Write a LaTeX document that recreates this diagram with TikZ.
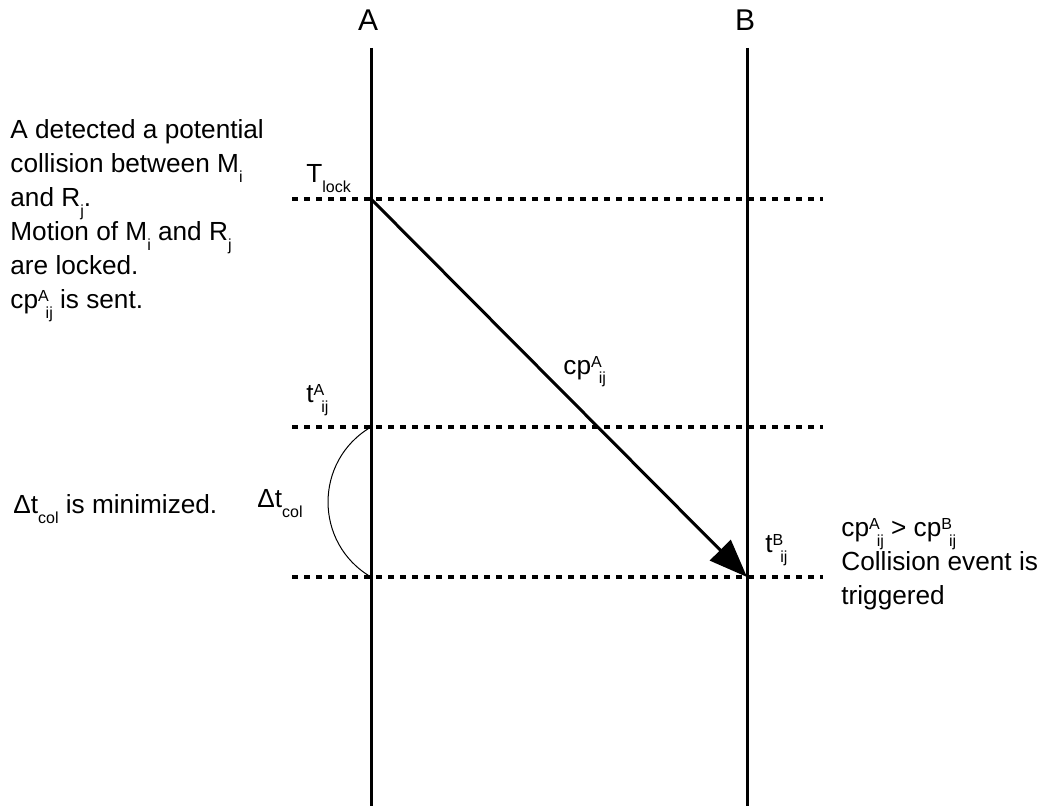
\documentclass[tikz,border=0pt]{standalone}
\usepackage{fontspec}
\setmainfont{Liberation Sans}
\usetikzlibrary{arrows.meta}
\newcommand{\subtx}[1]{\smash{\raisebox{-5pt}{\fontsize{8}{9}\selectfont #1}}}
\newcommand{\suptx}[1]{\smash{\raisebox{3.5pt}{\fontsize{8}{9}\selectfont #1}}}
\newcommand{\supsubtx}[2]{\suptx{#1}\kern-1.5pt\subtx{#2}}

\begin{document}
\begin{tikzpicture}[x=0.5pt,y=-0.5pt,
  every node/.style={inner sep=0pt,font=\fontsize{13.1}{17}\selectfont},
  lane/.style={line width=1.5pt},
  tick/.style={line width=2pt,dash pattern=on 3pt off 3pt},
  msg/.style={line width=1.5pt,-{Triangle[length=19pt,width=14.5pt]}},
  txt/.style={anchor=base west},
  head/.style={anchor=base,font=\fontsize{15}{18}\selectfont}]
  \useasboundingbox (0,0) rectangle (1047,806);
  % the two processes
  \node[head] (pa) at (368,31) {A};
  \node[head] (pb) at (745,31) {B};
  \coordinate (topA) at (371,48); \coordinate (botA) at (371,806);
  \coordinate (topB) at (747,48); \coordinate (botB) at (747,806);
  \draw[lane] (topA) -- (botA);
  \draw[lane] (topB) -- (botB);
  % time marks
  \coordinate (lockL) at (292,199); \coordinate (lockR) at (823,199);
  \coordinate (tAL) at (292,427);   \coordinate (tAR) at (823,427);
  \coordinate (tBL) at (292,577);   \coordinate (tBR) at (823,577);
  \draw[tick] (lockL) -- (lockR);
  \draw[tick] (tAL) -- (tAR);
  \draw[tick] (tBL) -- (tBR);
  \coordinate (lockA) at (371,199);
  \coordinate (tA) at (371,427); \coordinate (tAend) at (371,577);
  \coordinate (tB) at (747,577);
  % message and interval
  \draw[msg] (lockA) -- (tB);
  \draw[line width=0.5pt] (tA) .. controls (313.7,460.6) and (313.7,543.4) .. (tAend);
  \node[txt] (tlock) at (306,183) {T\subtx{lock}};
  \node[txt] (lta) at (306,402) {t\supsubtx{A}{ij}};
  \node[txt] (ltb) at (765,552) {t\supsubtx{B}{ij}};
  \node[txt] (lcp) at (563,374) {cp\supsubtx{A}{ij}};
  \node[txt] (ldt) at (257,507) {Δt\subtx{col}};
  % notes
  \node[anchor=north west,align=left] (ndetect) at (10,116) {\rule{0pt}{11pt}A detected a potential\\collision between M\subtx{i}\\and R\subtx{j}.\\Motion of M\subtx{i} and R\subtx{j}\\are locked.\\cp\supsubtx{A}{ij} is sent.};
  \node[txt] (nmin) at (13,513) {Δt\subtx{col} is minimized.};
  \node[anchor=north west,align=left] (ntrig) at (841,514) {\rule{0pt}{11pt}cp\supsubtx{A}{ij} > cp\supsubtx{B}{ij}\\Collision event is\\triggered};
\end{tikzpicture}
\end{document}
